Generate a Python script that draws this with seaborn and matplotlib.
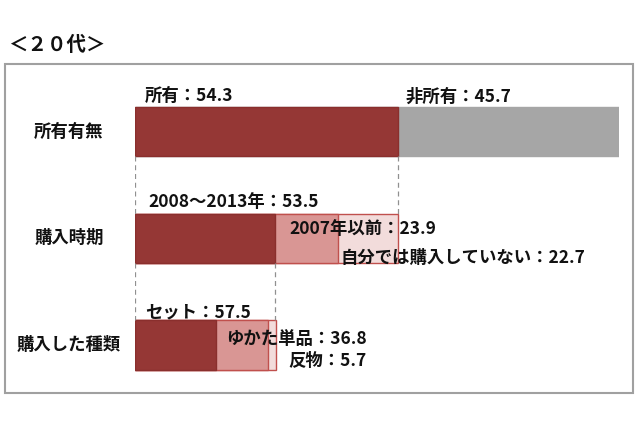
import numpy as np
import pandas as pd
import seaborn as sns
import matplotlib.pyplot as plt
from matplotlib.patches import Rectangle
from matplotlib.transforms import blended_transform_factory

# data (%)
rows = ["所有有無", "購入時期", "購入した種類"]
own = [54.3, 45.7]            # 所有, 非所有
period = [53.5, 23.9, 22.7]   # 2008～2013年, 2007年以前, 自分では購入していない
kind = [57.5, 36.8, 5.7]      # セット, ゆかた単品, 反物

own_labels = ["所有", "非所有"]
period_labels = ["2008～2013年", "2007年以前", "自分では購入していない"]
kind_labels = ["セット", "ゆかた単品", "反物"]

# each row is drawn inside the first segment of the row above
w1 = own[0]
w2 = w1 * period[0] / 100
seg = {
    rows[0]: [own[0], own[0] + own[1]],
    rows[1]: list(np.cumsum(period) / sum(period) * w1),
    rows[2]: list(np.cumsum(kind) / sum(kind) * w2),
}

sns.set_theme(style="white")
plt.rcParams["font.family"] = ["Noto Sans CJK JP", "DejaVu Sans"]

dark = "#953735"
mid = "#D99694"
light = "#F2DCDB"
grey = "#A6A6A6"
edge_red = "#C0504D"

fig = plt.figure(figsize=(6.4, 4.26), dpi=100)
W, H = 640, 426
ax = fig.add_axes([135 / W, (H - 393) / H, 484 / W, 329 / H])

# stacked bars: draw cumulative totals from the widest down
layers = [
    ("total", [seg[r][-1] for r in rows], [grey, light, light], [grey, edge_red, edge_red]),
    ("mid", [np.nan, seg[rows[1]][1], seg[rows[2]][1]], [mid, mid, mid], [edge_red] * 3),
    ("first", [seg[r][0] for r in rows], [dark, dark, dark], ["#8A2F2D"] * 3),
]
for name, vals, cols, eds in layers:
    df = pd.DataFrame({"row": rows, "val": vals})
    sns.barplot(data=df, y="row", x="val", hue="row", palette=cols, order=rows,
                width=0.46, saturation=1, legend=False, ax=ax, linewidth=0)
    for patch, ec in zip(ax.patches[-len(rows):], eds):
        patch.set_edgecolor(ec)
        patch.set_linewidth(1.0)

ax.set_xlim(0, 100)
ax.set_ylim(2.45, -0.634)
ax.axis("off")

# dashed guide lines between rows
half = 0.23
ax.vlines([0, seg[rows[0]][0]], half, 1 - half, colors="#909090", linestyles=(0, (4, 3)), lw=0.9)
ax.vlines([0, seg[rows[1]][0]], 1 + half, 2 - half, colors="#909090", linestyles=(0, (4, 3)), lw=0.9)

fs = 12.5
txt = dict(fontsize=fs, fontweight="bold", color="#111111", va="center", ha="left")

# value labels
ax.text(2.1, -0.33, f"{own_labels[0]}：{own[0]}", **txt)
ax.text(55.8, -0.33, f"{own_labels[1]}：{own[1]}", **txt)
ax.text(2.7, 1 - 0.34, f"{period_labels[0]}：{period[0]}", **txt)
ax.text(32.0, 1 - 0.09, f"{period_labels[1]}：{period[1]}", **txt)
ax.text(42.4, 1 + 0.18, f"{period_labels[2]}：{period[2]}", **txt)
ax.text(2.1, 2 - 0.31, f"{kind_labels[0]}：{kind[0]}", **txt)
right = dict(txt, ha="right")
ax.text(47.9, 2 - 0.06, f"{kind_labels[1]}：{kind[1]}", **right)
ax.text(47.9, 2 + 0.15, f"{kind_labels[2]}：{kind[2]}", **right)

# row labels
tr = blended_transform_factory(fig.transFigure, ax.transData)
for i, r in enumerate(rows):
    ax.text(69 / W, i, r, transform=tr, fontsize=fs, fontweight="bold",
            color="#111111", ha="center", va="center")

# frame and title
fig.patches.append(Rectangle((5 / W, (H - 393) / H), 628 / W, 329 / H,
                             transform=fig.transFigure, fill=False,
                             edgecolor="#A0A0A0", lw=1.5))
fig.text(8 / W, 1 - 45 / H, "＜２０代＞", fontsize=14, fontweight="bold",
         color="#111111", ha="left", va="center")

fig.savefig("out.png", dpi=100, facecolor="white")
